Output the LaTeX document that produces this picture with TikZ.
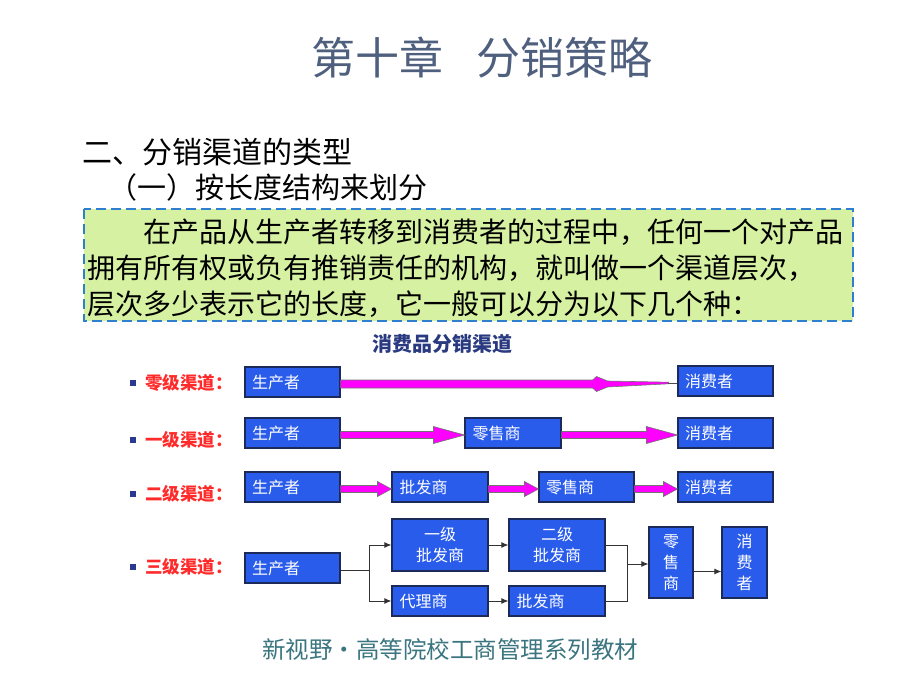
\documentclass[tikz,border=0pt]{standalone}
\usepackage{fontspec}
\newfontfamily\cjk{Noto Sans CJK SC}
\usetikzlibrary{calc,arrows.meta}
\definecolor{titlecol}{HTML}{4F5F7E}
\definecolor{footcol}{HTML}{3A7580}
\definecolor{greenfill}{HTML}{D6F1A2}
\definecolor{dashblue}{HTML}{2F7FD0}
\definecolor{boxblue}{HTML}{2A5CEC}
\definecolor{boxline}{HTML}{1C2A5A}
\definecolor{labred}{HTML}{FF2A2A}
\definecolor{bulblue}{HTML}{2B3A8F}
\definecolor{charttitle}{HTML}{2A3A80}
\definecolor{magentaA}{HTML}{FF00FF}
\newcommand\myfs[2]{\fontsize{#1}{#2}\selectfont}
\newcommand\blkarr[4]{% from, to, head length, head half height
  \filldraw[magarr] ($(#1.east)+(0,-1.5)$) -- ($(#2.west)+(-#3,-1.5)$) -- ($(#2.west)+(-#3,{2-#4})$) -- ($(#2.west)+(0,2)$) -- ($(#2.west)+(-#3,{2+#4})$) -- ($(#2.west)+(-#3,5.5)$) -- ($(#1.east)+(0,5.5)$) -- cycle;}
\begin{document}
\begin{tikzpicture}[x=1pt,y=-1pt,
  bx/.style={draw=boxline, line width=1.1pt, fill=boxblue, text=white, font=\cjk\myfs{16}{21}, inner sep=0pt},
  sbox/.style={bx, minimum width=95pt, minimum height=30pt, text width=81pt, align=left},
  tbox/.style={bx, minimum width=96pt, minimum height=52pt, align=center},
  vbox/.style={bx, minimum width=44pt, minimum height=71pt, align=center},
  lab/.style={anchor=west, inner sep=0pt, text=labred, font=\cjk\bfseries\myfs{17.5}{20}},
  bul/.style={fill=bulblue, minimum size=5.5pt, inner sep=0pt},
  magarr/.style={fill=magentaA, draw=black!55, line width=0.6pt},
  conn/.style={draw=black!80, line width=1pt, -{Latex[length=7pt,width=6pt]}},
  plain/.style={draw=black!80, line width=1pt},
  para/.style={anchor=west, inner sep=0pt, font=\cjk\myfs{28}{34}}
]
\path[use as bounding box, fill=white] (0,0) rectangle (920,690);

% title
\node[inner sep=0pt, text=titlecol, font=\cjk\myfs{44}{50}] (title) at (482,58) {第十章\hspace{0.75em}分销策略};

% headings
\node[anchor=west, inner sep=0pt, font=\cjk\myfs{30}{36}] (h1) at (82,152) {二、分销渠道的类型};
\node[anchor=west, inner sep=0pt, font=\cjk\myfs{29}{34}] (h2) at (108,187) {（一）按长度结构来划分};

% green box
\path[fill=greenfill, draw=dashblue, line width=2.6pt, dash pattern=on 10pt off 5pt] (84,209) rectangle (853,321);
\node[para] (l1) at (87,232) {\hspace{2em}在产品从生产者转移到消费者的过程中，任何一个对产品};
\node[para] (l2) at (87,268) {拥有所有权或负有推销责任的机构，就叫做一个渠道层次，};
\node[para] (l3) at (87,304) {层次多少表示它的长度，它一般可以分为以下几个种：};

% chart title
\node[inner sep=0pt, text=charttitle, font=\cjk\bfseries\myfs{20}{24}] (ct) at (442,344) {消费品分销渠道};

% row labels
\node[bul] (b0) at (133,383) {};
\node[lab] (t0) at (145,383) {零级渠道：};
\node[bul] (b1) at (133,440) {};
\node[lab] (t1) at (145,440) {一级渠道：};
\node[bul] (b2) at (133,494) {};
\node[lab] (t2) at (145,494) {二级渠道：};
\node[bul] (b3) at (133,567) {};
\node[lab] (t3) at (145,567) {三级渠道：};

% row 0
\node[sbox] (p0) at (292.5,382) {生产者};
\node[sbox] (c0) at (725.5,381) {消费者};
\filldraw[magarr] ($(p0.east)+(0,-2)$) -- ($(p0.east)+(252,-2)$) -- ($(p0.east)+(256,-5.5)$) -- ($(p0.east)+(267,-1)$) -- ($(c0.west)+(-9,1.2)$) -- ($(c0.west)+(-9,2.8)$) -- ($(p0.east)+(267,5)$) -- ($(p0.east)+(256,9.5)$) -- ($(p0.east)+(252,6)$) -- ($(p0.east)+(0,6)$) -- cycle;
\draw[draw=black!70, line width=0.6pt] ($(c0.west)+(-9,2)$) -- ($(c0.west)+(0,2)$);

% row 1
\node[sbox] (p1) at (292.5,433) {生产者};
\node[sbox, minimum width=96pt] (r1) at (513,433) {零售商};
\node[sbox] (c1) at (725.5,433) {消费者};
\blkarr{p1}{r1}{31}{8.5}
\blkarr{r1}{c1}{31}{8.5}

% row 2
\node[sbox] (p2) at (292.5,487) {生产者};
\node[sbox, minimum width=96pt] (w0) at (440,487) {批发商};
\node[sbox] (r2) at (586.5,487) {零售商};
\node[sbox] (c2) at (725.5,487) {消费者};
\blkarr{p2}{w0}{14}{7.5}
\blkarr{w0}{r2}{14}{7.5}
\blkarr{r2}{c2}{14}{7.5}

% row 3
\node[sbox] (p3) at (292.5,568) {生产者};
\node[tbox] (w1) at (440,545) {一级\\批发商};
\node[tbox] (w2) at (557,545) {二级\\批发商};
\node[sbox, minimum width=96pt] (ag) at (440,601) {代理商};
\node[sbox, minimum width=96pt] (w3) at (557,601) {批发商};
\node[vbox] (r3) at (671,562.5) {零\\售\\商};
\node[vbox, minimum width=45pt] (c3) at (744.5,562.5) {消\\费\\者};
\coordinate (sp) at (369,570);
\coordinate (mg) at (627,564);
\draw[plain] ($(p3.east)+(0,2)$) -- (sp);
\draw[conn] (sp) |- (w1.west);
\draw[conn] (sp) |- (ag.west);
\draw[conn] (w1.east) -- (w2.west);
\draw[conn] (ag.east) -- (w3.west);
\draw[plain] (w2.east) -| (mg);
\draw[plain] (w3.east) -| (mg);
\draw[conn] (mg) -- (r3.west |- mg);
\draw[conn] ($(r3.east)+(0,9)$) -- ($(c3.west)+(0,9)$);

% footer
\node[inner sep=0pt, text=footcol, font=\cjk\myfs{23.5}{28}] (foot) at (450,650) {新视野·高等院校工商管理系列教材};
\end{tikzpicture}
\end{document}
